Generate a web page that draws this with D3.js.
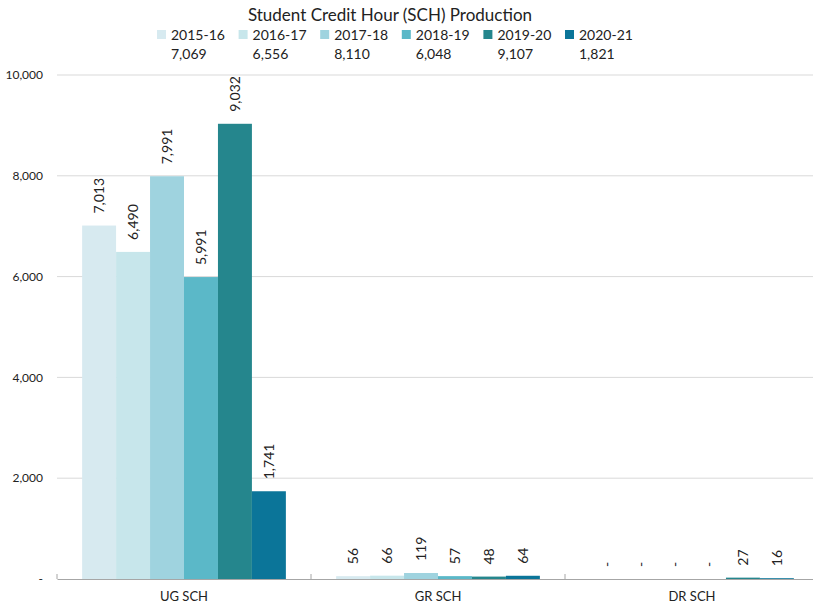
<!DOCTYPE html>
<html>
<head>
<meta charset="utf-8">
<script src="https://cdn.jsdelivr.net/npm/d3@7"></script>
<style>
  body { margin: 0; background: #fff; }
  text { font-family: Lato, "Open Sans", sans-serif; fill: #222; }
</style>
</head>
<body>
<div id="chart"></div>
<script>
// data
var categories = ["UG SCH", "GR SCH", "DR SCH"];
var years = ["2015-16", "2016-17", "2017-18", "2018-19", "2019-20", "2020-21"];
var totals = [7069, 6556, 8110, 6048, 9107, 1821];
var ugValues = [7013, 6490, 7991, 5991, 9032, 1741];
var grValues = [56, 66, 119, 57, 48, 64];
var drValues = [0, 0, 0, 0, 27, 16];
var yTicks = [0, 2000, 4000, 6000, 8000, 10000];
var colors = ["#d7eaf0", "#c7e6eb", "#9fd3df", "#5bb8c8", "#25868d", "#0b7599"];

var W = 813, H = 608;
var margin = {top: 75, right: -6, bottom: 29, left: 57};
var width = W - margin.left - margin.right;
var height = H - margin.top - margin.bottom;

var rows = [ugValues, grValues, drValues];

var svg = d3.select("#chart").append("svg")
    .attr("width", W).attr("height", H);

var g = svg.append("g").attr("transform", "translate(" + margin.left + "," + margin.top + ")");

var x0 = d3.scaleBand().domain(categories).range([0, width]);
var x1 = d3.scaleBand().domain(years).range([0, x0.bandwidth()]).paddingOuter(0.74).paddingInner(0);
var y = d3.scaleLinear().domain([0, 10000]).range([height, 0]);
var fmt = d3.format(",");

// gridlines
g.append("g").selectAll("line").data(yTicks.slice(1)).enter().append("line")
    .attr("x1", 0).attr("x2", width)
    .attr("y1", function(d) { return y(d); }).attr("y2", function(d) { return y(d); })
    .style("stroke", "#d9d9d9").style("stroke-width", 1);

// y labels
g.append("g").selectAll("text").data(yTicks).enter().append("text")
    .attr("x", -14).attr("y", function(d) { return y(d); })
    .attr("dy", "0.35em").attr("text-anchor", "end")
    .style("font-size", "12px")
    .text(function(d) { return d === 0 ? "-" : fmt(d); });

// bars
var groups = g.append("g").selectAll("g").data(categories).enter().append("g")
    .attr("transform", function(d) { return "translate(" + x0(d) + ",0)"; });

groups.selectAll("rect").data(function(d, i) {
    return rows[i].map(function(v, j) { return {year: years[j], value: v, idx: j}; });
  }).enter().append("rect")
    .attr("x", function(d) { return x1(d.year); })
    .attr("width", x1.bandwidth())
    .attr("y", function(d) { return y(d.value); })
    .attr("height", function(d) { return height - y(d.value); })
    .style("fill", function(d) { return colors[d.idx]; });

// value labels (rotated)
groups.selectAll("text").data(function(d, i) {
    return rows[i].map(function(v, j) { return {year: years[j], value: v}; });
  }).enter().append("text")
    .attr("transform", function(d) {
      var cx = x1(d.year) + x1.bandwidth() / 2;
      return "translate(" + (cx + 5) + "," + (y(d.value) - 12) + ") rotate(-90)";
    })
    .attr("text-anchor", "start")
    .style("font-size", "14px")
    .text(function(d) { return d.value === 0 ? "-" : fmt(d.value); });

// x axis
var xAxis = d3.axisBottom(x0).tickSize(0).tickPadding(13);
var xg = g.append("g").attr("transform", "translate(0," + height + ")").call(xAxis);
xg.select(".domain").style("stroke", "#a6a6a6");
xg.selectAll("text").style("font-size", "13px").style("fill", "#222")
    .style("font-family", "Lato, 'Open Sans', sans-serif");
xg.selectAll(".sep").data(d3.range(categories.length + 1)).enter().append("line")
    .attr("class", "sep")
    .attr("x1", function(i) { return i * x0.bandwidth(); })
    .attr("x2", function(i) { return i * x0.bandwidth(); })
    .attr("y1", 0).attr("y2", -5)
    .style("stroke", "#a6a6a6");

// title
svg.append("text").attr("x", 390).attr("y", 21).attr("text-anchor", "middle")
    .style("font-size", "17px").text("Student Credit Hour (SCH) Production");

// legend
var legend = svg.append("g").selectAll("g").data(years).enter().append("g")
    .attr("transform", function(d, i) { return "translate(" + (157 + i * 81.6) + ",0)"; });
legend.append("rect").attr("x", 0).attr("y", 30).attr("width", 9).attr("height", 9)
    .style("fill", function(d, i) { return colors[i]; });
legend.append("text").attr("x", 14).attr("y", 39.5)
    .style("font-size", "14px").text(function(d) { return d; });
legend.append("text").attr("x", 14).attr("y", 59)
    .style("font-size", "14px").text(function(d, i) { return fmt(totals[i]); });
</script>
</body>
</html>
